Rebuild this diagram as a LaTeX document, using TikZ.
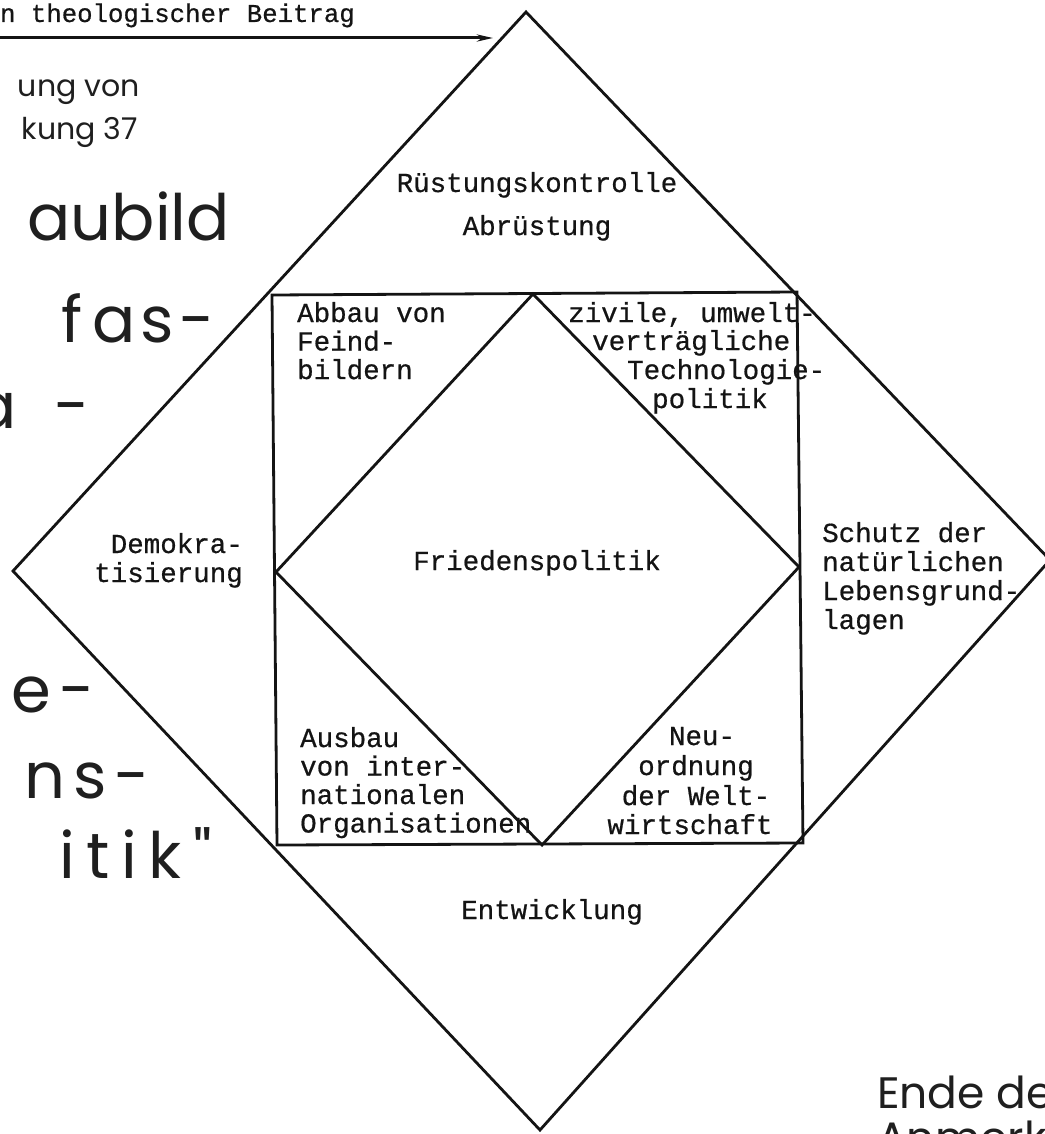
\documentclass[tikz,border=0pt]{standalone}
\usepackage{fontspec}
\usetikzlibrary{arrows.meta}
\newfontfamily\twfont{Liberation Mono}[FakeBold=0.6]
\newfontfamily\handfont{Poppins}
\begin{document}
\begin{tikzpicture}[x=1pt,y=-1pt,
  edge/.style={line width=2.8pt, line join=miter, draw=black!92},
  tw/.style={font=\twfont\fontsize{27.5}{28.5}\selectfont, inner sep=0pt, text=black!92},
  twsmall/.style={font=\twfont\fontsize{25.7}{28}\selectfont, inner sep=0pt, text=black!92},
  hwbig/.style={font=\handfont\fontsize{64}{70}\selectfont, inner sep=0pt, text=black!88},
  hwsmall/.style={font=\handfont\fontsize{30}{34}\selectfont, inner sep=0pt, text=black!88},
  hwend/.style={font=\handfont\fontsize{44}{48}\selectfont, inner sep=0pt, text=black!88}]
\useasboundingbox (0,0) rectangle (1044,1134);
\fill[white] (0,0) rectangle (1044,1134);
% outer diamond
\coordinate (oT) at (526,12);
\coordinate (oR) at (1050,560);
\coordinate (oB) at (540,1130);
\coordinate (oL) at (13,571);
% square
\coordinate (sTL) at (272,295);
\coordinate (sTR) at (797,292);
\coordinate (sBR) at (803,843);
\coordinate (sBL) at (277,845);
% inner diamond
\coordinate (iT) at (533,294);
\coordinate (iR) at (799,567);
\coordinate (iB) at (542,845);
\coordinate (iL) at (276,572);
\draw[edge] (oT) -- (oR) -- (oB) -- (oL) -- cycle;
\draw[edge] (sTL) -- (sTR) -- (sBR) -- (sBL) -- cycle;
\draw[edge] (iT) -- (iR) -- (iB) -- (iL) -- cycle;
% arrow
\coordinate (aS) at (-5,38);
\coordinate (aE) at (493,38);
\draw[line width=3pt, draw=black!92, -{Stealth[length=16pt,width=7pt]}] (aS) -- (aE);
\node[twsmall, anchor=base east] (top) at (355,22) {n theologischer Beitrag};
% labels
\node[tw, anchor=base] (r1) at (537,192) {Rüstungskontrolle};
\node[tw, anchor=base] (r2) at (537,235) {Abrüstung};
\node[tw, anchor=base west] (a1) at (297,322) {Abbau von};
\node[tw, anchor=base west] (a2) at (297,350.5) {Feind-};
\node[tw, anchor=base west] (a3) at (297,379) {bildern};
\node[tw, anchor=base west] (z1) at (568,322) {zivile, umwelt-};
\node[tw, anchor=base west] (z2) at (592,350) {verträgliche};
\node[tw, anchor=base west] (z3) at (627,379) {Technologie-};
\node[tw, anchor=base west] (z4) at (652,408) {politik};
\node[tw, anchor=base] (fp) at (537,570) {Friedenspolitik};
\node[tw, anchor=base east] (d1) at (243,553) {Demokra-};
\node[tw, anchor=base east] (d2) at (243,582) {tisierung};
\node[tw, anchor=base west] (s1) at (822,542) {Schutz der};
\node[tw, anchor=base west] (s2) at (822,571) {natürlichen};
\node[tw, anchor=base west] (s3) at (822,600) {Lebensgrund-};
\node[tw, anchor=base west] (s4) at (822,629) {lagen};
\node[tw, anchor=base west] (o1) at (300,747) {Ausbau};
\node[tw, anchor=base west] (o2) at (300,775.5) {von inter-};
\node[tw, anchor=base west] (o3) at (300,804) {nationalen};
\node[tw, anchor=base west] (o4) at (300,832.5) {Organisationen};
\node[tw, anchor=base] (n1) at (702,745) {Neu-};
\node[tw, anchor=base] (n2) at (696,775) {ordnung};
\node[tw, anchor=base] (n3) at (696,805) {der Welt-};
\node[tw, anchor=base] (n4) at (690,834) {wirtschaft};
\node[tw, anchor=base] (en) at (552,919) {Entwicklung};
% handwriting
\node[hwsmall, anchor=base east] (h1) at (140,97) {ung von};
\node[hwsmall, anchor=base east] (h2) at (138,140) {kung 37};
\node[hwbig, anchor=base east] (h3) at (230,240) {aubild};
\node[hwbig, anchor=base east] (h4) at (215,342) {\addfontfeature{LetterSpace=8}f\kern10pt as-};
\node[hwbig, anchor=base east] (h5) at (90,428) {a\kern38pt-};
\node[hwbig, anchor=base east] (h6) at (95,712) {e\kern8pt-};
\node[hwbig, anchor=base east] (h7) at (150,798) {\addfontfeature{LetterSpace=12}ns-};
\node[hwbig, anchor=base east] (h8) at (212,878) {\addfontfeature{LetterSpace=18}itik"};
\node[hwend, anchor=base west] (e1) at (877,1108) {Ende der};
\node[hwend, anchor=base west] (e2) at (877,1153) {Anmerku};
\end{tikzpicture}
\end{document}
